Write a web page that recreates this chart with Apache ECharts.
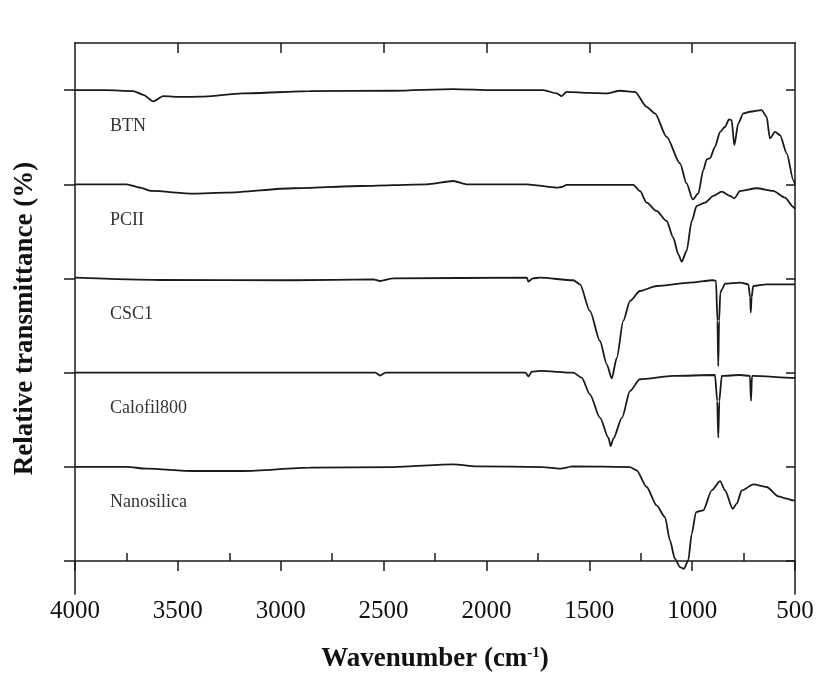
<!DOCTYPE html>
<html>
<head>
<meta charset="utf-8">
<title>FTIR spectra</title>
<script src="https://cdn.jsdelivr.net/npm/echarts@6/dist/echarts.min.js"></script>
<style>
  html, body { margin: 0; padding: 0; background: #fff; }
  #mydiv { width: 819px; height: 683px; }
</style>
</head>
<body>
<div id="mydiv"></div>
<script>
// 样品名称和纵向偏移
var names = ["BTN", "PCII", "CSC1", "Calofil800", "Nanosilica"];
var offsets = [5, 4, 3, 2, 1];

// 各光谱 [波数, 相对透过率(相对基线)]
var btn = [[4000,0],[3850,0],[3717,-0.01],[3668,-0.05],[3619,-0.12],[3571,-0.065],[3480,-0.072],[3392,-0.07],
  [3182,-0.035],[2858,-0.011],[2453,-0.007],[2161,0.011],[1967,0],[1724,0],[1658,-0.035],[1634,-0.064],
  [1610,-0.018],[1500,-0.03],[1415,-0.035],[1351,-0.007],[1278,-0.018],[1221,-0.178],[1181,-0.248],
  [1124,-0.496],[1059,-0.779],[1027,-0.991],[997,-1.161],[970,-1.097],[946,-0.85],[929,-0.736],[913,-0.722],
  [889,-0.602],[864,-0.443],[840,-0.389],[821,-0.311],[808,-0.319],[795,-0.584],[776,-0.354],[751,-0.248],
  [719,-0.23],[662,-0.212],[638,-0.283],[622,-0.513],[597,-0.443],[573,-0.478],[540,-0.673],[508,-0.956],[500,-1.0]];

var pcii = [[4000,0],[3749,0],[3684,-0.036],[3627,-0.071],[3425,-0.099],[3263,-0.089],[2939,-0.042],
  [2615,-0.018],[2290,0],[2161,0.035],[2096,0],[1804,0],[1658,-0.036],[1634,-0.029],[1610,-0.007],
  [1286,-0.007],[1254,-0.071],[1221,-0.195],[1173,-0.283],[1124,-0.39],[1092,-0.567],[1067,-0.744],
  [1051,-0.822],[1027,-0.708],[1002,-0.39],[978,-0.23],[938,-0.195],[897,-0.124],[856,-0.078],[816,-0.124],
  [795,-0.149],[767,-0.071],[686,-0.042],[606,-0.071],[549,-0.142],[508,-0.241],[500,-0.26]];

var csc1 = [[4000,0.008],[3587,-0.016],[2940,-0.019],[2551,-0.009],[2517,-0.027],[2454,0.002],[1803,0.008],
  [1796,-0.034],[1774,0.002],[1740,0.008],[1578,-0.019],[1545,-0.062],[1497,-0.345],[1448,-0.664],
  [1415,-0.911],[1391,-1.06],[1366,-0.841],[1335,-0.451],[1302,-0.239],[1254,-0.133],[1172,-0.08],
  [1011,-0.044],[897,-0.019],[884,-0.027],[877,-0.45],[873,-0.93],[869,-0.45],[863,-0.15],[856,-0.12],
  [840,-0.055],[767,-0.044],[727,-0.062],[718,-0.2],[715,-0.363],[711,-0.2],[703,-0.08],[638,-0.062],[500,-0.062]];

var calofil = [[4000,0],[2540,0],[2517,-0.03],[2490,0],[1810,0],[1796,-0.04],[1780,0.01],[1740,0.018],
  [1578,0],[1537,-0.053],[1497,-0.23],[1448,-0.478],[1407,-0.69],[1396,-0.78],[1383,-0.7],[1341,-0.478],
  [1302,-0.195],[1254,-0.07],[1094,-0.035],[889,-0.025],[878,-0.3],[873,-0.69],[868,-0.3],[856,-0.035],
  [767,-0.025],[719,-0.035],[714,-0.3],[709,-0.035],[703,-0.035],[508,-0.056],[500,-0.058]];

var nano = [[4000,0],[3749,0],[3652,-0.019],[3425,-0.044],[3182,-0.044],[2858,-0.009],[2453,-0.002],
  [2161,0.027],[2047,0.005],[1724,-0.002],[1643,-0.019],[1578,0.005],[1302,-0.002],[1270,-0.037],
  [1221,-0.214],[1173,-0.409],[1132,-0.533],[1108,-0.78],[1084,-0.975],[1059,-1.064],[1040,-1.082],
  [1019,-0.994],[1002,-0.711],[981,-0.48],[946,-0.462],[905,-0.25],[864,-0.151],[840,-0.25],[803,-0.445],
  [783,-0.391],[759,-0.25],[702,-0.186],[638,-0.214],[581,-0.313],[540,-0.338],[508,-0.356],[500,-0.36]];

var spectra = [btn, pcii, csc1, calofil, nano];

// 坐标轴刻度
var xMajorTicks = [3500, 3000, 2500, 2000, 1500, 1000];
var xMinorTicks = [3750, 3250, 2750, 2250, 1750, 1250, 750];
var yTicks = [0, 1, 2, 3, 4, 5];

var echart = echarts.init(document.getElementById("mydiv"));

var serif = "Liberation Serif";
var lineColor = "#1a1a1a";

var series = spectra.map(function (s, i) {
    return {
        name: names[i],
        type: "line",
        xAxisIndex: 0,
        yAxisIndex: 0,
        showSymbol: false,
        smooth: 0.25,
        smoothMonotone: "x",
        lineStyle: { color: lineColor, width: 1.8 },
        data: s.map(function (p) { return [p[0], p[1] + offsets[i]]; })
    };
});

var option = {
    animation: false,
    backgroundColor: "#fff",
    grid: { left: 75, right: 24, top: 43, bottom: 89 },
    xAxis: [{
        // 底部主刻度和标签
        type: "value", position: "bottom", inverse: true,
        min: 500, max: 4000, interval: 500,
        axisLine: { show: true, lineStyle: { color: lineColor, width: 1.5 } },
        axisTick: { show: true, inside: false, length: 10, lineStyle: { color: lineColor, width: 1.5 } },
        axisLabel: {
            fontFamily: serif, fontSize: 25, color: "#111", margin: 5,
            formatter: function (v) { return String(v); }
        },
        splitLine: { show: false },
        name: "{t|Wavenumber (cm}{s|-1}{t|)}",
        nameLocation: "middle", nameGap: 52,
        nameTextStyle: {
            rich: {
                t: { fontFamily: serif, fontSize: 27, fontWeight: "bold", color: "#111" },
                s: { fontFamily: serif, fontSize: 15, fontWeight: "bold", color: "#111", verticalAlign: "top", padding: [0, 0, 12, 0] }
            }
        }
    }, {
        // 底部内侧小刻度
        type: "value", position: "bottom", inverse: true,
        min: 500, max: 4000,
        axisLine: { show: false },
        axisTick: { show: true, inside: true, length: 8, customValues: xMinorTicks, lineStyle: { color: lineColor, width: 1.5 } },
        axisLabel: { show: false },
        splitLine: { show: false }
    }, {
        // 顶部边框
        type: "value", position: "top", inverse: true,
        min: 500, max: 4000,
        axisLine: { show: true, lineStyle: { color: lineColor, width: 1.5 } },
        axisTick: { show: true, inside: true, length: 10, customValues: xMajorTicks, lineStyle: { color: lineColor, width: 1.5 } },
        axisLabel: { show: false },
        splitLine: { show: false }
    }],
    yAxis: [{
        type: "value", position: "left",
        min: -0.35, max: 5.5,
        axisLine: { show: true, lineStyle: { color: lineColor, width: 1.5 } },
        axisTick: { show: true, inside: false, length: 11, customValues: yTicks, lineStyle: { color: lineColor, width: 1.5 } },
        axisLabel: { show: false },
        splitLine: { show: false },
        name: "Relative transmittance (%)",
        nameLocation: "middle", nameRotate: 90, nameGap: 36,
        nameTextStyle: { fontFamily: serif, fontSize: 27, fontWeight: "bold", color: "#111" }
    }, {
        type: "value", position: "right",
        min: -0.35, max: 5.5,
        axisLine: { show: true, lineStyle: { color: lineColor, width: 1.5 } },
        axisTick: { show: true, inside: true, length: 9, customValues: yTicks, lineStyle: { color: lineColor, width: 1.5 } },
        axisLabel: { show: false },
        splitLine: { show: false }
    }],
    series: series
};

echart.setOption(option);

// 样品名称标注
var labels = names.map(function (n, i) {
    var pt = echart.convertToPixel({ xAxisIndex: 0, yAxisIndex: 0 }, [3830, offsets[i] - 0.38]);
    return {
        type: "text",
        x: pt[0], y: pt[1],
        style: { text: n, fontFamily: serif, fontSize: 18, fill: "#333", textAlign: "left", textVerticalAlign: "middle" }
    };
});
echart.setOption({ graphic: labels });
</script>
</body>
</html>
